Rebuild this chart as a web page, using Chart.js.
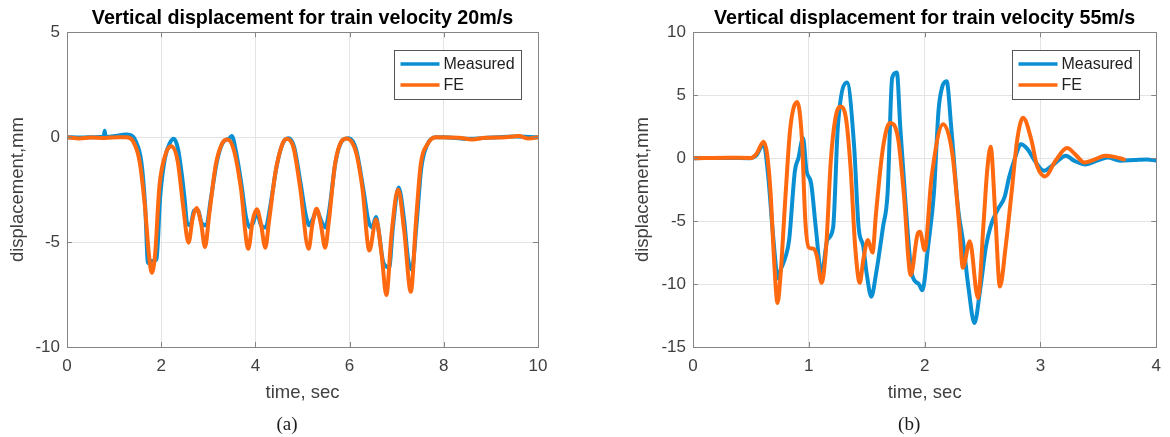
<!DOCTYPE html>
<html>
<head>
<meta charset="utf-8">
<script src="https://cdn.jsdelivr.net/npm/chart.js@4.4.1/dist/chart.umd.min.js"></script>
<style>
  html, body { margin: 0; padding: 0; background: #fff; }
  #wrap { position: relative; width: 1170px; height: 437px; }
  .panel { position: absolute; top: 0; width: 585px; height: 437px; }
</style>
</head>
<body>
<div id="wrap">
  <div class="panel" style="left:0"><canvas id="chart-a" width="585" height="437"></canvas></div>
  <div class="panel" style="left:585px"><canvas id="chart-b" width="585" height="437"></canvas></div>
</div>
<script>
const seriesNames = ['Measured', 'FE'];
const seriesColors = ['#0a90d2', '#ff6a10'];

// (a) train velocity 20 m/s
const aTitle = 'Vertical displacement for train velocity 20m/s';
const aXTicks = [0, 2, 4, 6, 8, 10];
const aYTicks = [-10, -5, 0, 5];
const aMeasTime = [0, 0.3, 0.6, 0.78, 0.8, 0.82, 1.0, 1.25, 1.35, 1.45, 1.58, 1.66, 1.72, 1.78, 1.84, 1.9, 1.98, 2.08, 2.18, 2.27, 2.36, 2.45, 2.5, 2.55, 2.62, 2.7, 2.78, 2.86, 2.96, 3.05, 3.18, 3.3, 3.45, 3.5, 3.58, 3.7, 3.8, 3.88, 3.95, 4.03, 4.12, 4.22, 4.3, 4.45, 4.58, 4.7, 4.82, 4.96, 5.06, 5.14, 5.22, 5.3, 5.4, 5.48, 5.56, 5.7, 5.85, 5.98, 6.14, 6.3, 6.4, 6.48, 6.56, 6.62, 6.72, 6.84, 6.92, 7.04, 7.16, 7.24, 7.32, 7.42, 7.52, 7.65, 7.83, 8.0, 8.5, 9.0, 9.5, 10];
const aMeasDisp = [0, -0.02, 0, 0.02, 0.3, 0.02, 0.05, 0.13, 0.1, -0.15, -1.2, -3.3, -6.0, -5.9, -5.9, -5.8, -2.8, -1.0, -0.3, -0.08, -0.6, -2.0, -3.0, -4.1, -4.2, -3.5, -3.5, -4.1, -4.2, -3.0, -1.2, -0.3, -0.05, 0.05, -0.6, -2.2, -3.8, -4.3, -4.1, -3.6, -4.2, -4.3, -3.5, -1.4, -0.3, -0.05, -0.45, -2.2, -3.6, -4.2, -3.9, -3.5, -4.0, -4.3, -3.6, -1.2, -0.15, -0.05, -0.6, -2.6, -4.0, -4.3, -3.8, -4.5, -6.0, -6.2, -4.3, -2.4, -4.0, -5.8, -6.3, -4.2, -1.5, -0.35, 0, 0, -0.08, -0.02, 0.03, 0];
const aFeTime = [0, 0.27, 0.5, 0.8, 1.1, 1.26, 1.4, 1.54, 1.65, 1.74, 1.8, 1.87, 1.96, 2.07, 2.21, 2.35, 2.47, 2.58, 2.67, 2.75, 2.85, 2.93, 3.02, 3.16, 3.3, 3.41, 3.55, 3.69, 3.85, 3.94, 4.03, 4.12, 4.21, 4.29, 4.43, 4.57, 4.67, 4.81, 4.95, 5.13, 5.21, 5.3, 5.39, 5.48, 5.56, 5.69, 5.83, 5.94, 6.13, 6.27, 6.42, 6.56, 6.68, 6.78, 6.89, 7.03, 7.16, 7.3, 7.41, 7.51, 7.65, 7.83, 8.32, 8.6, 8.88, 9.31, 9.59, 9.8, 10];
const aFeDisp = [0, -0.06, -0.02, -0.04, 0, 0, -0.19, -1.14, -3.2, -5.6, -6.46, -5.6, -2.4, -0.98, -0.43, -1.14, -3.37, -5.03, -3.84, -3.37, -4.16, -5.24, -3.68, -1.3, -0.27, -0.11, -0.67, -2.4, -5.32, -4.0, -3.44, -4.16, -5.27, -4.0, -1.62, -0.35, -0.08, -0.51, -2.4, -5.32, -4.16, -3.41, -4.16, -5.27, -4.0, -1.3, -0.19, -0.06, -0.67, -2.4, -5.4, -3.92, -5.6, -7.52, -4.63, -2.49, -4.48, -7.37, -4.0, -1.3, -0.35, 0, -0.03, -0.11, -0.03, 0, 0.05, -0.06, 0];

// (b) train velocity 55 m/s
const bTitle = 'Vertical displacement for train velocity 55m/s';
const bXTicks = [0, 1, 2, 3, 4];
const bYTicks = [-15, -10, -5, 0, 5, 10];
const bMeasTime = [0, 0.3, 0.5, 0.545, 0.61, 0.65, 0.69, 0.735, 0.76, 0.8, 0.83, 0.88, 0.91, 0.95, 0.98, 1.02, 1.06, 1.11, 1.16, 1.21, 1.25, 1.33, 1.39, 1.43, 1.47, 1.5, 1.54, 1.58, 1.64, 1.68, 1.72, 1.76, 1.79, 1.84, 1.89, 1.95, 1.98, 2.03, 2.08, 2.12, 2.15, 2.19, 2.23, 2.29, 2.33, 2.38, 2.43, 2.48, 2.53, 2.57, 2.63, 2.69, 2.73, 2.78, 2.83, 2.89, 2.95, 3.03, 3.12, 3.22, 3.29, 3.39, 3.49, 3.58, 3.69, 3.81, 3.92, 4.0];
const bMeasDisp = [0, 0.02, 0, 0.2, 1.1, -1.5, -6.0, -9.55, -8.8, -7.8, -6.5, -1.0, 0, 1.6, -1.0, -2.0, -5.5, -9.2, -6.5, -5.5, 2.4, 6.0, 1.1, -5.5, -7.0, -9.2, -11.0, -9.2, -5.5, -2.8, 6.4, 6.8, 2.4, -4.2, -9.2, -10.0, -10.5, -7.0, -2.8, 3.8, 5.6, 6.1, 2.4, -4.1, -6.5, -10.4, -13.1, -10.4, -7.0, -5.4, -4.1, -3.1, -1.5, 0, 1.1, 0.7, -0.2, -1.0, -0.45, 0.2, -0.2, -0.5, -0.2, 0.05, -0.2, -0.15, -0.1, -0.2];
const bFeTime = [0, 0.3, 0.5, 0.545, 0.61, 0.64, 0.67, 0.7, 0.73, 0.755, 0.8, 0.84, 0.9, 0.94, 0.97, 1.0, 1.04, 1.07, 1.11, 1.15, 1.19, 1.23, 1.27, 1.32, 1.36, 1.4, 1.44, 1.47, 1.51, 1.55, 1.58, 1.64, 1.7, 1.77, 1.82, 1.88, 1.94, 1.96, 2.0, 2.06, 2.16, 2.24, 2.3, 2.33, 2.39, 2.46, 2.51, 2.54, 2.57, 2.61, 2.65, 2.7, 2.75, 2.8, 2.85, 2.92, 2.97, 3.04, 3.13, 3.23, 3.3, 3.38, 3.47, 3.56, 3.64, 3.72];
const bFeDisp = [0, 0.03, 0.02, 0.3, 1.3, 0.3, -2.8, -8.1, -11.5, -9.4, -2.8, 2.4, 4.45, 1.6, -5.0, -7.1, -7.2, -7.8, -9.9, -7.0, -0.2, 3.2, 4.1, 3.2, -0.7, -7.0, -9.9, -8.1, -6.5, -7.5, -4.4, 0.8, 2.8, 1.6, -2.8, -9.3, -6.0, -5.85, -7.3, -1.5, 2.7, 0.3, -5.5, -8.7, -6.6, -11.1, -5.0, -1.0, 0.9, -4.5, -10.2, -7.0, -2.8, 1.5, 3.2, 1.5, -0.6, -1.45, -0.2, 0.8, 0.3, -0.35, -0.1, 0.2, 0.1, -0.1];

const sans = "'Liberation Sans', Arial, sans-serif";
const tickGray = '#404040';

function toPoints(ts, vs) {
    return ts.map((t, i) => ({ x: t, y: vs[i] }));
}

// box, inward ticks, legend and caption like a MATLAB axes
const matlabFrame = {
    id: 'matlabFrame',
    afterDatasetsDraw(chart, args, opts) {
        const { ctx, chartArea: a, scales: { x, y } } = chart;
        ctx.save();
        ctx.strokeStyle = '#858585';
        ctx.lineWidth = 1;
        ctx.beginPath();
        x.ticks.forEach(t => {
            const px = Math.round(x.getPixelForValue(t.value)) + 0.5;
            ctx.moveTo(px, a.bottom); ctx.lineTo(px, a.bottom - 5);
            ctx.moveTo(px, a.top); ctx.lineTo(px, a.top + 5);
        });
        y.ticks.forEach(t => {
            const py = Math.round(y.getPixelForValue(t.value)) + 0.5;
            ctx.moveTo(a.left, py); ctx.lineTo(a.left + 5, py);
            ctx.moveTo(a.right, py); ctx.lineTo(a.right - 5, py);
        });
        ctx.stroke();
        ctx.strokeRect(Math.round(a.left) + 0.5, Math.round(a.top) + 0.5, Math.round(a.width), Math.round(a.height));

        // legend
        const bw = 127, bh = 49;
        const bx = Math.round(a.right - 17 - bw) + 0.5;
        const by = Math.round(a.top + 18) + 0.5;
        ctx.fillStyle = '#fff';
        ctx.fillRect(bx, by, bw, bh);
        ctx.strokeStyle = '#555';
        ctx.strokeRect(bx, by, bw, bh);
        ctx.font = '16px ' + sans;
        ctx.textBaseline = 'middle';
        ctx.textAlign = 'left';
        chart.data.datasets.forEach((ds, i) => {
            const ly = by + 13.5 + i * 21;
            ctx.strokeStyle = ds.borderColor;
            ctx.lineWidth = 3.5;
            ctx.beginPath();
            ctx.moveTo(bx + 6, ly); ctx.lineTo(bx + 45, ly);
            ctx.stroke();
            ctx.fillStyle = '#222';
            ctx.fillText(ds.label, bx + 49, ly + 1);
        });

        // panel caption
        ctx.font = "19px 'Liberation Serif', 'Times New Roman', serif";
        ctx.textAlign = 'center';
        ctx.fillStyle = '#1a1a1a';
        ctx.fillText(opts.caption, (a.left + a.right) / 2 - 15.5, 425);
        ctx.restore();
    }
};

function makeChart(id, o) {
    return new Chart(document.getElementById(id), {
        type: 'line',
        data: {
            datasets: [{
                label: seriesNames[0],
                data: toPoints(o.measTime, o.measDisp),
                borderColor: seriesColors[0],
                borderWidth: 4,
                order: 1
            }, {
                label: seriesNames[1],
                data: toPoints(o.feTime, o.feDisp),
                borderColor: seriesColors[1],
                borderWidth: 4,
                order: 0
            }]
        },
        options: {
            responsive: false,
            animation: false,
            devicePixelRatio: 1,
            layout: { padding: { left: o.padLeft, right: o.padRight, top: 0, bottom: 0 } },
            elements: {
                point: { radius: 0 },
                line: { cubicInterpolationMode: 'monotone', borderJoinStyle: 'round', borderCapStyle: 'round' }
            },
            plugins: {
                legend: { display: false },
                tooltip: { enabled: false },
                title: {
                    display: true,
                    text: o.title,
                    fullSize: false,
                    color: '#000',
                    font: { family: sans, size: 19.7, weight: 'bold' },
                    padding: { top: 6.8, bottom: 1.8 }
                },
                matlabFrame: { caption: o.caption }
            },
            scales: {
                x: {
                    type: 'linear',
                    min: o.xTicks[0],
                    max: o.xTicks[o.xTicks.length - 1],
                    afterBuildTicks: s => { s.ticks = o.xTicks.map(v => ({ value: v })); },
                    afterFit: s => { s.height = 90; },
                    grid: { color: '#e4e4e4', drawTicks: false },
                    border: { display: false },
                    ticks: { padding: 9, color: tickGray, font: { family: sans, size: 17 } },
                    title: {
                        display: true,
                        text: 'time, sec',
                        color: tickGray,
                        font: { family: sans, size: 18.5 },
                        padding: { top: 0, bottom: 33 }
                    }
                },
                y: {
                    type: 'linear',
                    min: o.yTicks[0],
                    max: o.yTicks[o.yTicks.length - 1],
                    afterBuildTicks: s => { s.ticks = o.yTicks.map(v => ({ value: v })); },
                    afterFit: s => { s.width = o.yWidth; },
                    grid: { color: '#e4e4e4', drawTicks: false },
                    border: { display: false },
                    ticks: { padding: 7, color: tickGray, font: { family: sans, size: 17 } },
                    title: {
                        display: true,
                        text: 'displacement,mm',
                        color: tickGray,
                        font: { family: sans, size: 18.5 },
                        padding: { top: 6.9, bottom: 0 }
                    }
                }
            }
        },
        plugins: [matlabFrame]
    });
}

makeChart('chart-a', {
    title: aTitle, caption: '(a)', xTicks: aXTicks, yTicks: aYTicks,
    measTime: aMeasTime, measDisp: aMeasDisp, feTime: aFeTime, feDisp: aFeDisp,
    padLeft: 0, yWidth: 67, padRight: 47
});

makeChart('chart-b', {
    title: bTitle, caption: '(b)', xTicks: bXTicks, yTicks: bYTicks,
    measTime: bMeasTime, measDisp: bMeasDisp, feTime: bFeTime, feDisp: bFeDisp,
    padLeft: 40, yWidth: 68, padRight: 8
});
</script>
</body>
</html>
